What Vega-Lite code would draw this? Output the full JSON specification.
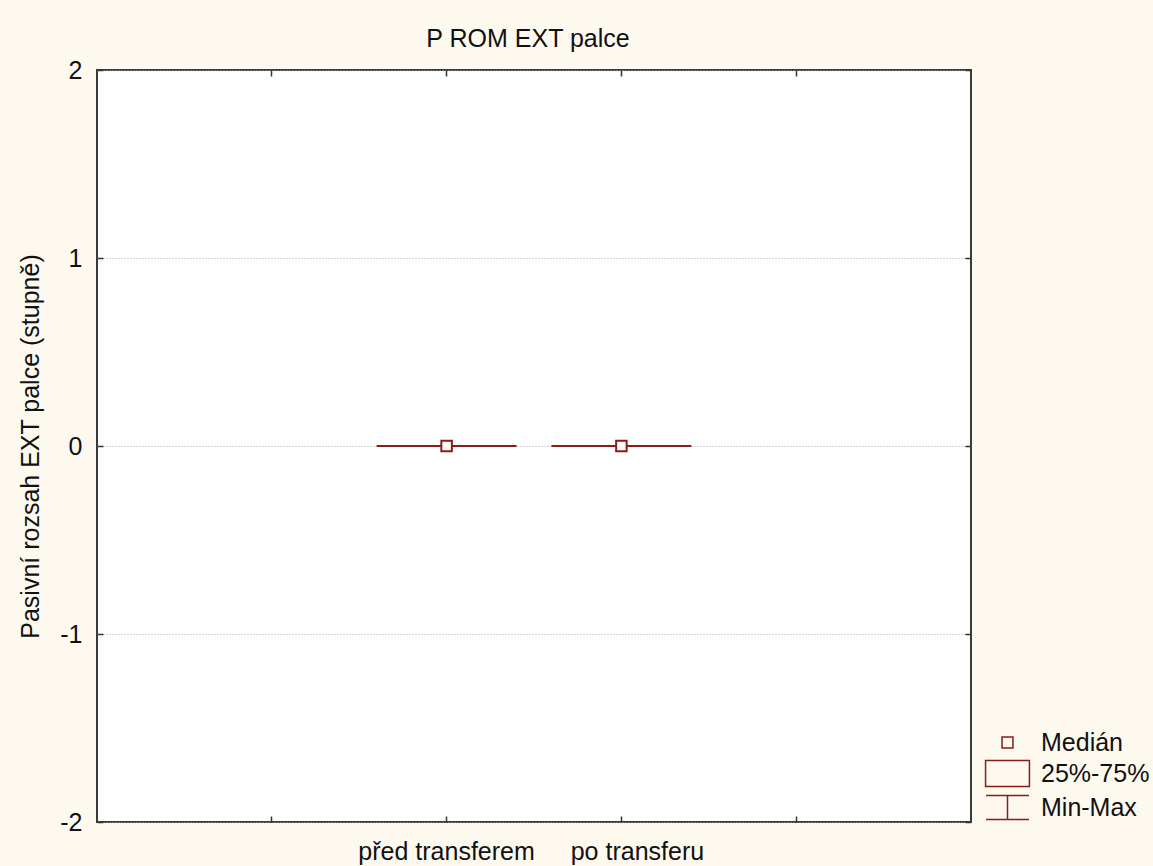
{
  "$schema": "https://vega.github.io/schema/vega-lite/v6.json",
  "autosize": "none",
  "width": 874,
  "height": 752,
  "padding": {"left": 97, "top": 70, "right": 182, "bottom": 44},
  "background": "#FEF9EF",
  "view": {"fill": "#ffffff", "fillOpacity": 1, "stroke": "#3a3a3a", "strokeWidth": 2},
  "config": {
    "font": "Liberation Sans"
  },
  "title": {
    "text": "P ROM EXT palce",
    "fontSize": 25,
    "fontWeight": "normal",
    "font": "Liberation Sans",
    "color": "#111111",
    "baseline": "alphabetic",
    "offset": -14,
    "dx": -6
  },
  "datasets": {
    "stats": [
      {"group": "před transferem", "min": 0, "q1": 0, "median": 0, "q3": 0, "max": 0},
      {"group": "po transferu", "min": 0, "q1": 0, "median": 0, "q3": 0, "max": 0}
    ],
    "legend": [
      {"item": "Medián"},
      {"item": "25%-75%"},
      {"item": "Min-Max"}
    ]
  },
  "layer": [
    {
      "data": {"name": "stats"},
      "mark": {"type": "bar", "fill": "white", "stroke": "#8B1A1A", "strokeWidth": 2, "width": {"band": 0.8}},
      "encoding": {
        "x": {
          "field": "group",
          "type": "nominal",
          "sort": null,
          "scale": {"domain": ["_a", "před transferem", "po transferu", "_b"], "paddingInner": 0, "paddingOuter": 0.5},
          "axis": {
            "orient": "bottom",
            "title": null,
            "domain": false,
            "grid": false,
            "labelAngle": 0,
            "labelExpr": "substring(datum.value, 0, 1) == '_' ? '' : datum.label",
            "labelFontSize": 25,
            "labelColor": "#111111",
            "labelPadding": 23,
            "labelOffset": {"condition": {"test": "datum.value == 'po transferu'", "value": 16}, "value": 0},
            "tickSize": -6,
            "tickColor": "#333333",
            "tickWidth": 1.5
          }
        },
        "y": {
          "field": "q1",
          "type": "quantitative",
          "scale": {"domain": [-2, 2], "nice": false, "zero": false},
          "axis": {
            "orient": "left",
            "title": "Pasivní rozsah EXT palce (stupně)",
            "titleFontSize": 25,
            "titleFontWeight": "normal",
            "titleColor": "#111111",
            "titlePadding": 16,
            "values": [-2, -1, 0, 1, 2],
            "labelExpr": "'' + datum.value",
            "domain": false,
            "labelFontSize": 25,
            "labelColor": "#111111",
            "labelPadding": 21,
            "tickSize": -6,
            "tickColor": "#333333",
            "tickWidth": 1.5,
            "grid": true,
            "gridColor": "#aaaaaa",
            "gridDash": [1, 2],
            "gridWidth": 1
          }
        },
        "y2": {"field": "q3"}
      }
    },
    {
      "data": {"name": "stats"},
      "mark": {"type": "rule", "stroke": "#8B1A1A", "strokeWidth": 2},
      "encoding": {
        "x": {"field": "group", "type": "nominal", "sort": null, "axis": null},
        "y": {"field": "min", "type": "quantitative", "axis": null},
        "y2": {"field": "max"}
      }
    },
    {
      "data": {"name": "stats"},
      "mark": {"type": "point", "shape": "square", "size": 110, "filled": true, "fill": "white", "stroke": "#8B1A1A", "strokeWidth": 2, "opacity": 1},
      "encoding": {
        "x": {"field": "group", "type": "nominal", "sort": null, "axis": null},
        "y": {"field": "median", "type": "quantitative", "axis": null}
      }
    },
    {
      "data": {"name": "stats"},
      "mark": {"type": "point", "opacity": 0},
      "encoding": {
        "x": {
          "field": "group",
          "type": "nominal",
          "sort": null,
          "axis": {
            "orient": "top",
            "title": null,
            "domain": false,
            "grid": false,
            "labels": false,
            "tickSize": -6,
            "tickColor": "#333333",
            "tickWidth": 1.5
          }
        },
        "y": {
          "field": "median",
          "type": "quantitative",
          "axis": {
            "orient": "right",
            "title": null,
            "values": [-2, -1, 0, 1, 2],
            "domain": false,
            "grid": false,
            "labels": false,
            "tickSize": -6,
            "tickColor": "#333333",
            "tickWidth": 1.5
          }
        }
      }
    },
    {
      "data": {"name": "legend"},
      "mark": {"type": "point", "opacity": 0, "filled": false, "color": "#8B1A1A"},
      "encoding": {
        "shape": {
          "field": "item",
          "type": "nominal",
          "sort": null,
          "scale": {
            "domain": ["Medián", "25%-75%", "Min-Max"],
            "range": [
              "M-0.33,-0.33H0.33V0.33H-0.33Z",
              "M-1.33,-0.79H1.33V0.79H-1.33Z",
              "M-1.3,-0.73H1.3M0,-0.73V0.73M-1.3,0.73H1.3"
            ]
          },
          "legend": {
            "title": null,
            "orient": "none",
            "legendX": 893,
            "legendY": 655,
            "padding": 0,
            "symbolSize": 1089,
            "labelFontSize": 25,
            "labelColor": "#111111",
            "labelOffset": 16,
            "rowPadding": 0,
            "encode": {
              "symbols": {
                "update": {
                  "opacity": {"value": 1},
                  "size": {"value": 1089},
                  "stroke": {"value": "#8B1A1A"},
                  "strokeWidth": {"value": 2},
                  "fill": {"value": "transparent"}
                }
              }
            }
          }
        }
      }
    }
  ],
  "resolve": {"axis": {"x": "independent", "y": "independent"}}
}
